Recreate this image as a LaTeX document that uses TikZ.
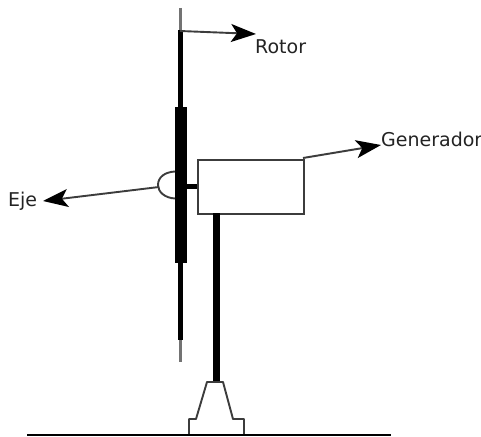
\documentclass[tikz,border=0pt]{standalone}
\usepackage{fontspec}
\setmainfont{DejaVu Sans}
\usetikzlibrary{arrows.meta}
\definecolor{ink}{RGB}{60,60,60}
\definecolor{labelink}{RGB}{35,35,35}
\tikzset{
  x=1pt,y=-1pt,
  lab/.style={inner sep=0pt,text=labelink,font=\fontsize{19}{22}\selectfont,anchor=base west},
  ptr/.style={draw=ink,line width=1.9pt,-{Stealth[length=25pt,width=18pt,inset=6pt,color=black]}},
  thin shaft/.style={draw=black!55,line width=3pt},
  shaft/.style={fill=black,draw=none},
  outline/.style={draw=ink,line width=1.9pt},
}
\begin{document}
\begin{tikzpicture}
\useasboundingbox (0,0) rectangle (481,436);
% shaft
\draw[thin shaft] (180.5,8) -- (180.5,32);
\draw[thin shaft] (180.5,338) -- (180.5,362);
\fill[shaft] (178,30) rectangle (183,340);
\fill[shaft] (175,107) rectangle (187,263);
% box and stub
\node[outline,fill=white,minimum width=106pt,minimum height=54pt,inner sep=0pt,anchor=north west] (gen) at (197,159) {};
\fill[shaft] (187,183.5) rectangle (197,188.5);
% tower
\fill[shaft] (213,213) rectangle (219.5,382);
% base
\draw[outline,line join=round] (189,435) -- (189,419) -- (196,419) -- (207,382) -- (223,382) -- (233,419) -- (244,419) -- (244,435);
\draw[draw=black,line width=2.2pt] (27,435) -- (391,435);
% half dome
\draw[outline] (175,171.5) .. controls (165,172) and (158,177) .. (158,185) .. controls (158,192) and (165,198) .. (175,198.5);
% labels
\node[lab] (rotor) at (255,53) {Rotor};
\node[lab] (generador) at (381,146) {Generador};
\node[lab] (eje) at (8,206) {Eje};
\coordinate (rotorTip) at (256,34);
\coordinate (genTip) at (381,145);
\coordinate (ejeTip) at (43,201);
\coordinate (rotorTail) at (180,31);
\coordinate (genTail) at (303,158);
\coordinate (ejeTail) at (159,187);
\draw[ptr] (rotorTail) -- (rotorTip);
\draw[ptr] (genTail) -- (genTip);
\draw[ptr] (ejeTail) -- (ejeTip);
\end{tikzpicture}
\end{document}
